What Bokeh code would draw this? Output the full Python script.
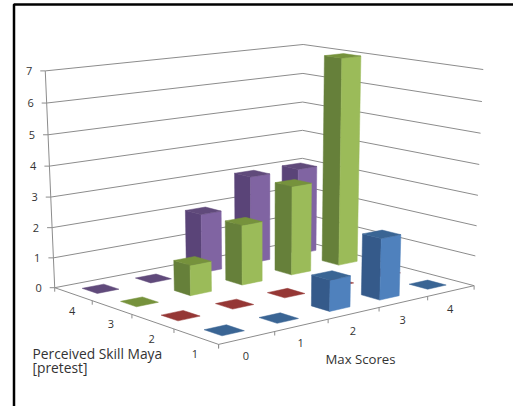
import numpy as np
from bokeh.core.properties import value
from bokeh.embed import file_html
from bokeh.models import Range1d
from bokeh.plotting import figure
from bokeh.resources import INLINE

# Survey counts: one row per perceived skill level, one column per max score
max_scores = ["0", "1", "2", "3", "4"]
skill_levels = ["1", "2", "3", "4"]
count_ticks = ["0", "1", "2", "3", "4", "5", "6", "7"]
skill_1 = [0, 0, 1, 2, 0]
skill_2 = [0, 0, 0, 0, 0]
skill_3 = [0, 1, 2, 3, 7]
skill_4 = [0, 0, 2, 3, 3]
rows = [skill_1, skill_2, skill_3, skill_4]

# side, front and top face colours per row
palette = [
    ("#355A8A", "#4F81BD", "#3A6594"),
    ("#953735", "#953735", "#953735"),
    ("#66803A", "#9BBB59", "#76923C"),
    ("#5A4478", "#8064A2", "#604A7B"),
]
FONT = "Open Sans"
TEXT = "#333333"
GRID = "#8C8C8C"
W, H = 513, 406
BAR = 0.4

# Pinhole camera for the 3-D scene, solved from known box positions
anchors = [
    ((0, 0, 0), (219, 345)), ((5, 0, 0), (473, 284)), ((0, 4, 0), (54, 286)),
    ((5, 4, 0), (302, 242)), ((0, 4, 7), (45, 71)), ((5, 4, 7), (302, 44)),
    ((5, 0, 7), (483, 69)), ((1, 0, 0), (275, 332)), ((2, 0, 0), (327, 319)),
    ((3, 0, 0), (378, 307)), ((4, 0, 0), (427, 295)), ((0, 1, 0), (173, 328)),
    ((0, 2, 0), (131, 314)), ((0, 3, 0), (92, 300)),
    ((0, 4, 3), (50, 196)), ((5, 4, 3), (302, 157)), ((5, 0, 3), (478, 195)),
]
A = []
for (X, Z, Y), (u, v) in anchors:
    A.append([X, Z, Y, 1, 0, 0, 0, 0, -u * X, -u * Z, -u * Y, -u])
    A.append([0, 0, 0, 0, X, Z, Y, 1, -v * X, -v * Z, -v * Y, -v])
camera = np.linalg.svd(np.array(A, float))[2][-1].reshape(3, 4)


def project(X, Z, Y):
    q = camera @ np.array([X, Z, Y, 1.0])
    return q[0] / q[2], q[1] / q[2]


def polygon(points):
    xy = [project(*pt) for pt in points]
    return [a for a, _ in xy], [b for _, b in xy]


def label(x, y, text, size="11px", align="center"):
    p.text([x], [y], text=[text], text_font=value(FONT), text_font_size=size,
           text_color=TEXT, text_align=align, text_baseline="middle")


p = figure(width=W, height=H, output_backend="svg", toolbar_location=None,
           x_range=Range1d(0, W), y_range=Range1d(H, 0), min_border=0)
p.axis.visible = False
p.grid.visible = False
p.outline_line_color = None
p.background_fill_color = "white"

# Frame along the top and left edges
p.line([13.5, 13.5, W], [H, 4, 4], line_color="black", line_width=2.5)

# Wall gridlines and floor outline
for level, tick in enumerate(count_ticks):
    xs, ys = polygon([(0, 4, level), (5, 4, level), (5, 0, level)])
    p.line(xs, ys, line_color=GRID, line_width=1)
    tx, ty = polygon([(0, 4, level)])
    p.line([tx[0] - 5, tx[0]], [ty[0], ty[0]], line_color=GRID, line_width=1)
    label(tx[0] - 13, ty[0], tick, align="right")
xs, ys = polygon([(0, 4, 0), (0, 4, 7)])
p.line(xs, ys, line_color=GRID, line_width=1)
xs, ys = polygon([(0, 4, 0), (0, 0, 0), (5, 0, 0)])
p.line(xs, ys, line_color=GRID, line_width=1)

# Floor ticks and category labels
for i in range(len(max_scores) + 1):
    tx, ty = polygon([(i, 0, 0)])
    p.line([tx[0], tx[0]], [ty[0], ty[0] + 4], line_color=GRID, line_width=1)
for i, name in enumerate(max_scores):
    tx, ty = polygon([(i + 0.5, 0, 0)])
    label(tx[0] - 1, ty[0] + 18, name)
for j in range(len(skill_levels) + 1):
    tx, ty = polygon([(0, j, 0)])
    p.line([tx[0], tx[0]], [ty[0], ty[0] + 4], line_color=GRID, line_width=1)
for j, name in enumerate(skill_levels):
    tx, ty = polygon([(0, j + 0.5, 0)])
    label(tx[0] - 1, ty[0] + 17, name)

label(32, 353, "Perceived Skill Maya", size="13.8px", align="left")
label(32, 367, "[pretest]", size="13.8px", align="left")
label(360, 358, "Max Scores", size="13.2px")

# Columns, far rows first so nearer ones overlap them
for j in reversed(range(len(rows))):
    for i in reversed(range(len(max_scores))):
        height = rows[j][i]
        x0, x1 = i + 0.5 - BAR / 2, i + 0.5 + BAR / 2
        z0, z1 = j + 0.5 - BAR / 2, j + 0.5 + BAR / 2
        side, front, top = palette[j]
        faces = []
        if height > 0:
            faces.append(([(x0, z0, 0), (x0, z1, 0), (x0, z1, height), (x0, z0, height)], side))
            faces.append(([(x0, z0, 0), (x1, z0, 0), (x1, z0, height), (x0, z0, height)], front))
        faces.append(([(x0, z0, height), (x1, z0, height), (x1, z1, height), (x0, z1, height)], top))
        for pts, colour in faces:
            xs, ys = polygon(pts)
            p.patch(xs, ys, fill_color=colour, line_color=colour, line_width=0.5)

open("out.html", "w").write(file_html(p, INLINE))
